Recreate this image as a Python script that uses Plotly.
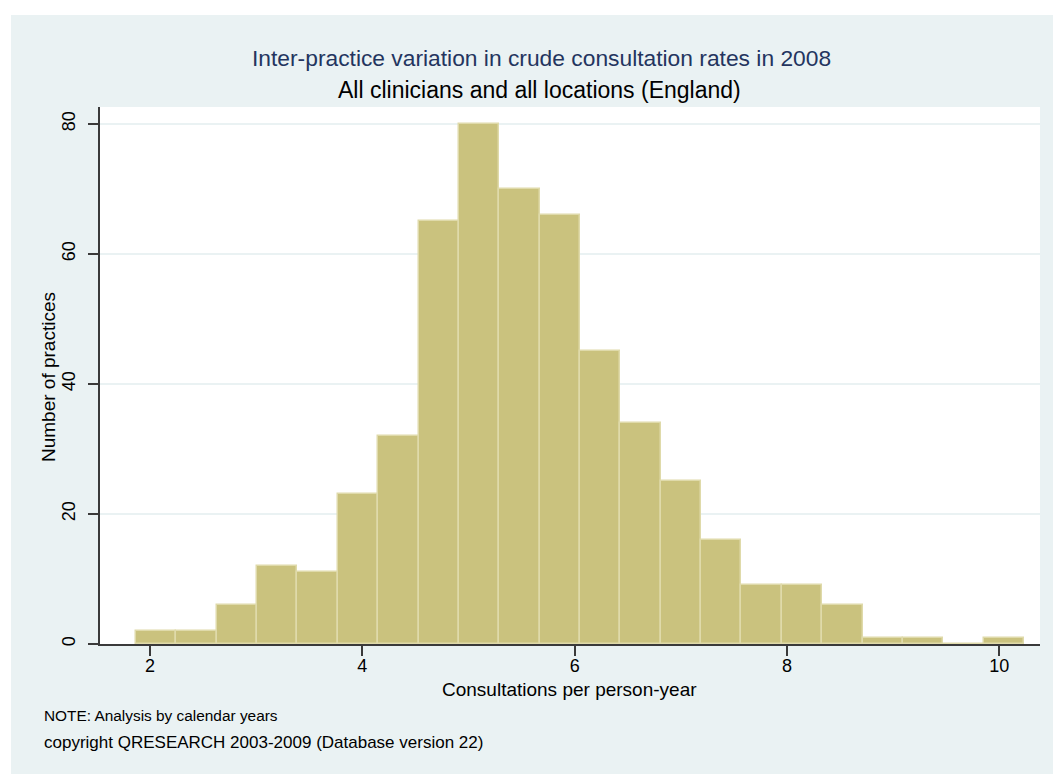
import plotly.graph_objects as go

# ---- data ----
bin_start = 1.868          # left edge of first bin (consultations per person-year)
bin_width = 0.3802         # width of each bin
counts = [2, 2, 6, 12, 11, 23, 32, 65, 80, 70, 66, 45, 34, 25, 16, 9, 9, 6, 1, 1, 0, 1]
x_ticks = [2, 4, 6, 8, 10]
y_ticks = [0, 20, 40, 60, 80]

title_text = "Inter-practice variation in crude consultation rates in 2008"
subtitle_text = "All clinicians and all locations (England)"
x_title = "Consultations per person-year"
y_title = "Number of practices"
note_text = "NOTE: Analysis by calendar years"
copyright_text = "copyright QRESEARCH 2003-2009 (Database version 22)"

centers = [bin_start + (i + 0.5) * bin_width for i in range(len(counts))]

FONT = "Liberation Sans, Arial, sans-serif"
BG = "#EAF2F3"
AX = "#3a3a3a"

W, H = 1053, 774
L, T = 100, 107
R = W - 1040
B = H - 644
pw, ph = W - L - R, H - T - B


def px(xs):
    return (xs - L) / pw


def py(ys):
    return (H - B - ys) / ph


fig = go.Figure()
fig.add_trace(go.Bar(
    x=centers, y=counts, width=bin_width,
    marker=dict(color="#CAC27E", line=dict(color="#DFDAAA", width=1.5)),
    hoverinfo="x+y",
))

fig.update_layout(
    width=W, height=H,
    margin=dict(l=L, r=R, t=T, b=B, pad=0),
    paper_bgcolor=BG, plot_bgcolor="white",
    showlegend=False, bargap=0,
    font=dict(family=FONT, color="black", size=18),
    xaxis=dict(
        range=[1.529, 10.383], tickvals=x_ticks, ticks="outside", ticklen=10,
        tickwidth=1.5, tickcolor=AX, showline=True, linecolor=AX, linewidth=1.5,
        showgrid=False, zeroline=False, tickfont=dict(size=18, color="black"),
        ticklabelstandoff=-5,
    ),
    yaxis=dict(
        range=[0, 82.6], tickvals=y_ticks, ticks="outside", ticklen=10,
        tickwidth=1.5, tickcolor=AX, showline=True, linecolor=AX, linewidth=1.5,
        showgrid=True, gridcolor=BG, gridwidth=2, zeroline=False,
        tickangle=-90, tickfont=dict(size=18, color="black"),
        ticklabelstandoff=6,
    ),
    shapes=[
        dict(type="rect", xref="paper", yref="paper", x0=px(-20), x1=px(11),
             y0=py(H + 40), y1=py(-20), fillcolor="white", line=dict(width=0), layer="above"),
        dict(type="rect", xref="paper", yref="paper", x0=px(-20), x1=px(W + 40),
             y0=py(15), y1=py(-20), fillcolor="white", line=dict(width=0), layer="above"),
    ],
    annotations=[
        dict(text=title_text, x=px(541), y=py(58), xref="paper", yref="paper",
             showarrow=False, xanchor="center", yanchor="middle",
             font=dict(size=22.8, color="#24355F", family=FONT)),
        dict(text=subtitle_text, x=px(539), y=py(90), xref="paper", yref="paper",
             showarrow=False, xanchor="center", yanchor="middle",
             font=dict(size=23, color="black", family=FONT)),
        dict(text=x_title, x=px(569), y=py(689), xref="paper", yref="paper",
             showarrow=False, xanchor="center", yanchor="middle",
             font=dict(size=19, color="black", family=FONT)),
        dict(text=y_title, x=px(48), y=py(377), xref="paper", yref="paper",
             showarrow=False, xanchor="center", yanchor="middle", textangle=-90,
             font=dict(size=19, color="black", family=FONT)),
        dict(text=note_text, x=px(42), y=py(715), xref="paper", yref="paper",
             showarrow=False, xanchor="left", yanchor="middle",
             font=dict(size=15.4, color="black", family=FONT)),
        dict(text=copyright_text, x=px(42), y=py(742), xref="paper", yref="paper",
             showarrow=False, xanchor="left", yanchor="middle",
             font=dict(size=17, color="black", family=FONT)),
    ],
)

fig.write_html(
    "out.html",
    config={"displayModeBar": False},
    post_script=(
        "document.body.style.margin='0';"
        "document.body.style.overflow='hidden';"
        "document.documentElement.style.background='" + BG + "';"
        "document.body.style.background='" + BG + "';"
    ),
)
